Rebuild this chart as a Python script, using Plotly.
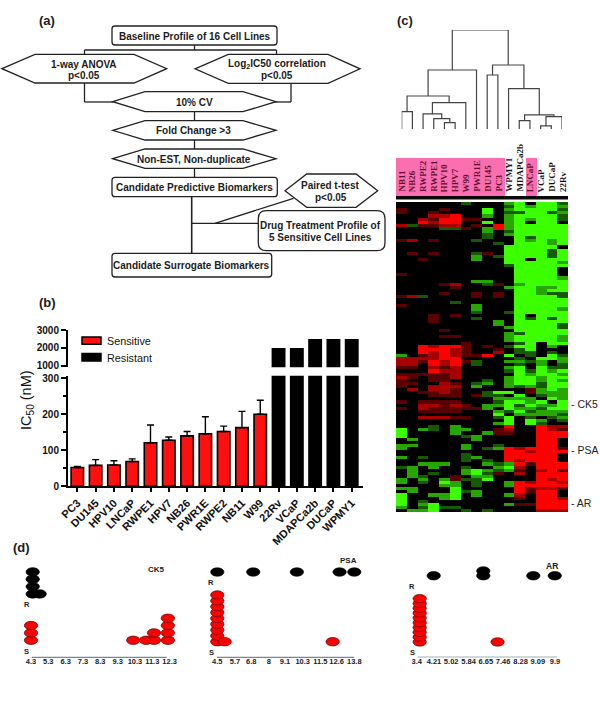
import plotly.graph_objects as go

# --- panel (b) IC50 bars ---
sens_lines = ["PC3", "DU145", "HPV10", "LNCaP", "RWPE1", "HPV7", "NB26", "PWR1E", "RWPE2", "NB11", "W99"]
sens_ic50 = [52, 58, 59, 69, 121, 128, 140, 146, 152, 163, 200]
sens_err = [3, 16, 12, 7, 49, 9, 12, 47, 15, 45, 39]
res_lines = ["22Rv", "VCaP", "MDAPCa2b", "DUCaP", "WPMY1"]
res_ic50 = [2000, 2000, 2500, 2500, 2500]

# --- panel (c) heatmap ---
# . black, a/b/c red getting brighter, x/y/z green getting brighter
# left block is the 10 sensitive-side columns, right block the last 6
heat_cols = ["NB11", "NB26", "RWPE2", "RWPE1", "HPV10", "HPV7", "W99", "PWR1E", "DU145", "PC3",
             "WPMY1", "MDAPCa2b", "LNCaP", "VCaP", "DUCaP", "22Rv"]
heat_rows_top = [
    "......x... yz.zzx", ".......... xzyzzy", "a...a...z. yzzzzx", "a..a....z. xxzzxy",
    "...bbc..y. yzzzzx", "..baccaa.. yzyzzx", "..cbcc..z. yz.zz.", "bxaabb.a.c yzzzzz",
    "....xxa.yc yzzzzz", "........y. xzzzzz", "........x. yzzzzz", "........x. .zxzzz",
    "ab.a...x.. .zyzyz", ".........x .zzzyz", ".......... zzzzz.", ".......... zzzzxz",
    ".a.a...xa. zzzzxz", ".......y.x zzzzxz", "..a....y.. zz.zzz", ".......... zzzzzy",
    ".......... xzzzzz", ".......... .zzzz.", ".......... .zzzz.", "a......... .zzzz.",
    ".......... .zzzzy", ".......yy. .zzzzz", "....ab..xa .yzzzz", ".....a.... yzzyyz",
    ".......... .zzyzz", "....a..a.a .zzyxx", "abx....a.a .zzzzx", ".......... .zzzzz",
    ".....x.... .zzzzz", "a......y.. .zzzzz", ".......y.. .zzzzy",
]
heat_rows_mid = [
    ".......x.. xzzzzz", "...a.a.... .z.zzz", "...a...x.. .zxzxz", "...a.....y .zzzzz",
    ".........y .zzzzx", ".......... yzzzzx", "....a..... .zzzzz", ".......... yxzzzz",
    "....aa.... yzzzzy", ".......... yzzzzy", "......a... .xz.zz", "..cbcca.a. xzz.y.",
    "..cccba..a .xz...", "..cbcba..b .xx.x.", "y.abcbaac. z.x.zx", "bbbbcc.... .x.zzy",
    "bbacbcax.. yyxy.y", "bb.cbc.x.. .x.y.x", "aa.bab.... yz.zxx", "...cbb.... xzxzyz",
    "aaaaab.... .zyzzy", "ba.aab.... yzzyzz", "a..aa...x. yzzyzy", "aa..ba.xy. yzzxzz",
    "a..bbb.y.. yxyxzz", ".b.bba.... ..ayzy", "..aaba..xz z.ayyy", "...aaa.axx .z.xyy",
    ".........y yyy.zy", "a.aaaa...x zzyz.z", "..bbaba.yy zxzyyz", "a.baaaaay. zyyxzz",
    "..aaaa...y xzxyyy",
]
heat_rows_low = [
    ".........z .yyyyx", "..bbbaa..x z.x.xy", ".......... z.zy.x", ".........y z.zx..",
    "...x.y.... c..cbb", "z.yx.yy..a b..cba", "z....y..ya a..ccc", "z.....xy.. ...ccc",
    ".y.....y.. ...cc.", ".......... ...cc.", "yy....y..x ...cc.", "y.....y.xy cbccca",
    ".......... ccbccc", "......x... ccccc.", "y.x...xy.. ccccc.", "......x.x. cbccc.",
    "..yyy...yx ycaccc", "xy.y..x..y zb.ccc", ".y....yzyx ya.bca", ".y.x..yzxa .b.ccc",
    ".yx..a.yy. ...ccc", "y.y.yaxxz. ...cbc", "y.x.zy.x.. ycbccb", "....yy.x.. yccccc",
    "yy...z.... .cabba", ".y...zxy.. .cacc.", "z..yyz.y.. yb.cc.", "z...yz.... .a.ccb",
    "z.x....... ...ccc", "z.yz...... yaaccc", "y.xzxx.... ...ccc", ".yyz..x.x. ...bbb",
]
heat_levels = {".": 0, "a": 0.35, "b": 0.65, "c": 1, "x": -0.35, "y": -0.65, "z": -1}

# --- panel (c) dendrogram: leaves are 0-15, merge i makes node 16+i ---
dendro_left = [4, 3, 2, 18, 0, 20, 21, 8, 11, 13, 25, 24, 10, 23, 22]
dendro_right = [5, 16, 17, 6, 1, 19, 7, 9, 12, 14, 15, 26, 27, 28, 29]
dendro_height = [20, 32, 46, 80, 53, 100, 178, 163, 26, 10, 38, 43, 122, 193, 298]

# --- panel (d) dot plots ---
ck5_ticks = [4.3, 5.3, 6.3, 7.3, 8.3, 9.3, 10.3, 11.3, 12.3]
ck5_s_x = [4.3, 4.3, 4.3, 10.2, 10.95, 11.4, 11.4, 12.2, 12.2, 12.2, 12.2]
ck5_s_level = [0, 1, 2, 0, 0, 0, 1, 0, 1, 2, 3]
ck5_r_x = [4.8, 4.4, 4.4, 4.4, 4.4]
ck5_r_level = [0, 0, 1, 2, 3]

psa_ticks = [4.5, 5.7, 6.8, 8, 9.1, 10.3, 11.5, 12.6, 13.8]
psa_s_x = [4.5, 4.5, 4.5, 4.5, 4.5, 4.5, 4.5, 4.5, 4.5, 5.0, 12.33]
psa_s_level = [0, 1, 2, 3, 4, 5, 6, 7, 8, 0, 0]
psa_r_x = [4.5, 6.94, 9.9, 12.8, 13.8]
psa_r_level = [0, 0, 0, 0, 0]

ar_ticks = [3.4, 4.21, 5.02, 5.84, 6.65, 7.46, 8.28, 9.09, 9.9]
ar_s_x = [3.54, 3.54, 3.54, 3.54, 3.54, 3.54, 3.54, 3.54, 3.54, 3.54, 7.2]
ar_s_level = [0, 1, 2, 3, 4, 5, 6, 7, 8, 9, 0]
ar_r_x = [4.2, 6.53, 6.53, 8.88, 9.89]
ar_r_level = [0, 0, 1, 0, 0]

W, H = 600, 702
SANS = "Liberation Sans, Arial, sans-serif"
SERIF = "Liberation Serif, Times New Roman, serif"
INK = "#1c1c1c"


def dom_x(left, right):
    return [left / W, right / W]


def dom_y(top, bottom):
    return [1 - bottom / H, 1 - top / H]


fig = go.Figure()
shapes = []
notes = []


def note(x, y, text, size=10, bold=True, family=SANS, color=INK, **kw):
    if bold:
        text = "<b>" + text + "</b>"
    notes.append(dict(x=x, y=y, xref="x8", yref="y8", text=text, showarrow=False,
                      font=dict(family=family, size=size, color=color), **kw))


def seg(x0, y0, x1, y1, width=1.3, color="#222"):
    shapes.append(dict(type="line", xref="x8", yref="y8", x0=x0, y0=y0, x1=x1, y1=y1,
                       line=dict(color=color, width=width)))


def hexagon(left, tl, tr, right, top, bottom):
    mid = (top + bottom) / 2
    path = f"M{left},{mid} L{tl},{top} L{tr},{top} L{right},{mid} L{tr},{bottom} L{tl},{bottom} Z"
    shapes.append(dict(type="path", xref="x8", yref="y8", path=path, fillcolor="white",
                       line=dict(color="#222", width=1.3)))


def round_box(left, top, right, bottom, r=3):
    path = (f"M{left + r},{top} L{right - r},{top} Q{right},{top} {right},{top + r} "
            f"L{right},{bottom - r} Q{right},{bottom} {right - r},{bottom} "
            f"L{left + r},{bottom} Q{left},{bottom} {left},{bottom - r} "
            f"L{left},{top + r} Q{left},{top} {left + r},{top} Z")
    shapes.append(dict(type="path", xref="x8", yref="y8", path=path, fillcolor="white",
                       line=dict(color="#222", width=1.3)))


# 1: flowchart (a), connectors first so the boxes sit on top
seg(194.5, 45, 194.5, 50)
seg(84.5, 50, 276.5, 50)
seg(84.5, 50, 84.5, 54)
seg(276.5, 50, 276.5, 54)
seg(84.5, 83, 84.5, 102)
seg(84.5, 102, 113, 102)
seg(291, 83, 291, 102)
seg(291, 102, 275, 102)
seg(194.5, 111, 194.5, 178)
seg(191.7, 196, 191.7, 254, 1.6)
seg(191.7, 223.3, 259, 223.3)
seg(215, 223.3, 293.5, 198.3)

round_box(112, 26, 277, 45)
hexagon(2, 35, 134, 166.7, 54.3, 83)
hexagon(195, 228.3, 328, 360, 54.3, 83.3)
hexagon(112.7, 145, 243, 276, 91.7, 111.7)
hexagon(112.7, 145, 243, 276, 120.7, 140)
hexagon(112.7, 145, 243, 276, 149, 168.3)
round_box(112, 177.3, 277.3, 196.7)
hexagon(285, 306.7, 356, 377.7, 174, 207.3)
round_box(258.3, 210.7, 385, 250.7, 8)
round_box(112, 253.3, 271.7, 277)

note(194.5, 36.5, "Baseline Profile of 16 Cell Lines")
note(84, 64, "1-way ANOVA")
note(84, 75.5, "p&lt;0.05")
note(277, 63.7, "Log<sub>2</sub>IC50 correlation")
note(277, 75.5, "p&lt;0.05")
note(194, 102, "10% CV")
note(193, 130.5, "Fold Change &gt;3")
note(194, 159, "Non-EST, Non-duplicate")
note(194, 187, "Candidate Predictive Biomarkers")
note(330, 185, "Paired t-test")
note(331, 197, "p&lt;0.05")
note(320, 225.3, "Drug Treatment Profile of")
note(320, 237, "5 Sensitive Cell Lines")
note(191.7, 265.7, "Candidate Surrogate Biomarkers")

# panel letters
note(47, 20, "(a)", size=13)
note(47, 302, "(b)", size=13)
note(405, 20, "(c)", size=13)
note(21, 547, "(d)", size=13)

# 2: bars (b), same bars on a lower and an upper y axis for the broken scale
all_lines = sens_lines + res_lines
for yref in ["y", "y2"]:
    fig.add_trace(go.Bar(x=sens_lines, y=sens_ic50, xaxis="x", yaxis=yref, name="Sensitive", width=0.68,
                         marker=dict(color="#ff1010", line=dict(color="black", width=1.6)),
                         error_y=dict(type="data", array=sens_err, symmetric=False, arrayminus=[0] * len(sens_err),
                                      color="black", thickness=1.4, width=3.5),
                         showlegend=False))
    fig.add_trace(go.Bar(x=res_lines, y=res_ic50, xaxis="x", yaxis=yref, name="Resistant", width=0.76,
                         marker=dict(color="black", line=dict(color="black", width=0)),
                         showlegend=False))

shapes.append(dict(type="rect", xref="x8", yref="y8", x0=82, y0=337, x1=101, y1=344.3,
                   fillcolor="#ff1010", line=dict(color="black", width=1.5)))
shapes.append(dict(type="rect", xref="x8", yref="y8", x0=82, y0=353.5, x1=101, y1=361,
                   fillcolor="black", line=dict(color="black", width=1.5)))
note(104.5, 340.7, "Sensitive", size=10.8, bold=False, xanchor="left", color="#111")
note(104.5, 357.7, "Resistant", size=10.8, bold=False, xanchor="left", color="#111")
note(27, 400, "IC<sub>50</sub> (nM)", size=14.5, bold=False, textangle=-90, color="#111")

# 3: heatmap (c)
heat_rows = heat_rows_top + heat_rows_mid + heat_rows_low
heat_z = [[heat_levels[c] for c in row.replace(" ", "")] for row in heat_rows]
fig.add_trace(go.Heatmap(z=heat_z, x=heat_cols, xaxis="x3", yaxis="y3", zmin=-1, zmax=1, showscale=False,
                         colorscale=[[0, "#3cff00"], [0.5, "#000000"], [1, "#ff0000"]]))

shapes.append(dict(type="rect", xref="x8", yref="y8", x0=396, y0=158, x1=505, y1=196,
                   fillcolor="#fb6fb0", line=dict(width=0)))
shapes.append(dict(type="rect", xref="x8", yref="y8", x0=526, y0=158, x1=537, y1=196,
                   fillcolor="#fb6fb0", line=dict(width=0)))
shapes.append(dict(type="rect", xref="x8", yref="y8", x0=396, y0=196, x1=568, y1=199.5,
                   fillcolor="#0a0a0a", line=dict(width=0)))
pink_cols = heat_cols[:10] + ["LNCaP"]
for i, name in enumerate(heat_cols):
    note(401.6 + 10.72 * i, 194, name, size=9, family=SERIF, textangle=-90, yanchor="bottom",
         color="#5e1030" if name in pink_cols else "#111")
note(569, 404.3, "- CK5", size=10.5, bold=False, xanchor="left", color="#222")
note(569, 450, "- PSA", size=10.5, bold=False, xanchor="left", color="#222")
note(569, 502.7, "- AR", size=10.5, bold=False, xanchor="left", color="#222")

# 4: dendrogram above the heatmap
node_x = list(range(16))
node_h = [0] * 16
dx, dy = [], []
for a, b, h in zip(dendro_left, dendro_right, dendro_height):
    dx += [node_x[a], node_x[a], node_x[b], node_x[b], None]
    dy += [node_h[a], h, h, node_h[b], None]
    node_x.append((node_x[a] + node_x[b]) / 2)
    node_h.append(h)
fig.add_trace(go.Scatter(x=dx, y=dy, xaxis="x4", yaxis="y4", mode="lines", cliponaxis=False,
                         line=dict(color="#444", width=1.2), showlegend=False))


# 5: dot plots (d), plotly has no ellipse marker so each dot also gets a pixel sized circle shape
def dots(axis, xs, levels, offset, color, outline):
    ys = [lv + offset for lv in levels]
    fig.add_trace(go.Scatter(x=xs, y=ys, xaxis="x" + axis, yaxis="y" + axis, mode="markers", cliponaxis=False,
                             marker=dict(color=color, size=7), showlegend=False))
    for xv, yv in zip(xs, ys):
        shapes.append(dict(type="circle", xref="x" + axis, yref="y" + axis, xsizemode="pixel", ysizemode="pixel",
                           xanchor=xv, yanchor=yv, x0=-6.7, x1=6.7, y0=-4.2, y1=4.2,
                           fillcolor=color, line=dict(color=outline, width=0.7)))


dots("5", ck5_r_x, ck5_r_level, 6.3, "black", "black")
dots("5", ck5_s_x, ck5_s_level, 0, "#ff0000", "#5a0000")
dots("6", psa_r_x, psa_r_level, 11.95, "black", "black")
dots("6", psa_s_x, psa_s_level, 0, "#ff0000", "#5a0000")
dots("7", ar_r_x, ar_r_level, 13.75, "black", "black")
dots("7", ar_s_x, ar_s_level, 0, "#ff0000", "#5a0000")

# axis lines of (d) drawn apart: the subplots are wider than the ticks so shapes are not clipped
seg(31.7, 657.3, 166.7, 657.3, 1, "#4f6c72")
seg(217, 657.3, 354, 657.3, 1, "#4f6c72")
seg(417.5, 657, 557, 657, 1, "#9fb0b4")

note(156, 569.5, "CK5", size=8)
note(348, 560, "PSA", size=8)
note(552, 565.7, "AR", size=8.5)
for x, y, t in [(26.5, 604.7, "R"), (26.5, 651, "S"), (211, 582.7, "R"), (211, 652, "S"),
                (412, 586.7, "R"), (412, 652, "S")]:
    note(x, y, t, size=7.5)

# invisible trace so the pixel axis for shapes and text exists
fig.add_trace(go.Scatter(x=[None], y=[None], xaxis="x8", yaxis="y8", showlegend=False, hoverinfo="skip"))

bold_font = dict(family=SANS, size=10, color="#111")
PAD = 14


def dot_xaxis(left, right, ticks, anchor):
    per_px = (ticks[-1] - ticks[0]) / (right - left)
    return dict(domain=dom_x(left - PAD, right + PAD), range=[ticks[0] - PAD * per_px, ticks[-1] + PAD * per_px],
                anchor=anchor, showgrid=False, zeroline=False, showline=False, ticks="", tickmode="array", tickvals=ticks,
                ticktext=["<b>%s</b>" % t for t in ticks], tickangle=0, ticklabelstandoff=-2,
                tickfont=dict(family=SANS, size=7.5, color="#222"))


def dot_yaxis(low, high, anchor):
    return dict(domain=dom_y(555, 657.3), range=[low, high], anchor=anchor, visible=False)


fig.update_layout(
    template="none",
    width=W, height=H, autosize=False,
    margin=dict(l=0, r=0, t=0, b=0),
    paper_bgcolor="white", plot_bgcolor="rgba(0,0,0,0)",
    barmode="overlay",
    xaxis=dict(domain=dom_x(68, 362.7), range=[-0.51, 15.6], anchor="y", categoryorder="array", categoryarray=all_lines,
               showline=True, linecolor="black", linewidth=2, ticks="outside", ticklen=4, tickwidth=1.5, tickcolor="black",
               showgrid=False, zeroline=False, tickangle=-45, tickmode="array", tickvals=all_lines,
               ticktext=["<b>%s</b>" % n for n in all_lines], tickfont=dict(family=SANS, size=11, color="#111")),
    yaxis=dict(domain=dom_y(375.7, 486.3), range=[0, 307], anchor="x", showline=True, linecolor="black", linewidth=2,
               ticks="outside", ticklen=5, tickwidth=2, tickcolor="black", showgrid=False, zeroline=False,
               tickmode="array", tickvals=[0, 100, 200, 300], ticktext=["<b>0</b>", "<b>100</b>", "<b>200</b>", "<b>300</b>"],
               tickfont=bold_font,
               minor=dict(tickmode="array", tickvals=[50, 150, 250], ticks="outside", ticklen=3, tickwidth=1.5, tickcolor="black")),
    yaxis2=dict(domain=dom_y(330, 367.3), range=[925, 3000], anchor="x", showline=True, linecolor="black", linewidth=2,
                ticks="outside", ticklen=5, tickwidth=2, tickcolor="black", showgrid=False, zeroline=False,
                tickmode="array", tickvals=[1000, 2000, 3000], ticktext=["<b>1000</b>", "<b>2000</b>", "<b>3000</b>"],
                tickfont=bold_font),
    xaxis3=dict(domain=dom_x(396, 568), anchor="y3", visible=False),
    yaxis3=dict(domain=dom_y(202, 512), anchor="x3", visible=False, autorange="reversed"),
    xaxis4=dict(domain=dom_x(401.7, 562), range=[0, 15], anchor="y4", visible=False),
    yaxis4=dict(domain=dom_y(30, 129.3), range=[0, 298], anchor="x4", visible=False),
    xaxis5=dot_xaxis(31, 169.6, ck5_ticks, "y5"),
    yaxis5=dot_yaxis(-2.32, 11.6, "x5"),
    xaxis6=dot_xaxis(217.3, 354.3, psa_ticks, "y6"),
    yaxis6=dot_yaxis(-2.68, 14.87, "x6"),
    xaxis7=dot_xaxis(416.7, 555, ar_ticks, "y7"),
    yaxis7=dot_yaxis(-3.19, 18.06, "x7"),
    xaxis8=dict(domain=[0, 1], range=[0, W], anchor="y8", visible=False),
    yaxis8=dict(domain=[0, 1], range=[H, 0], anchor="x8", visible=False),
    shapes=shapes,
    annotations=notes,
)

fig.write_html("out.html", config=dict(displayModeBar=False),
               post_script="document.body.style.margin='0';")
